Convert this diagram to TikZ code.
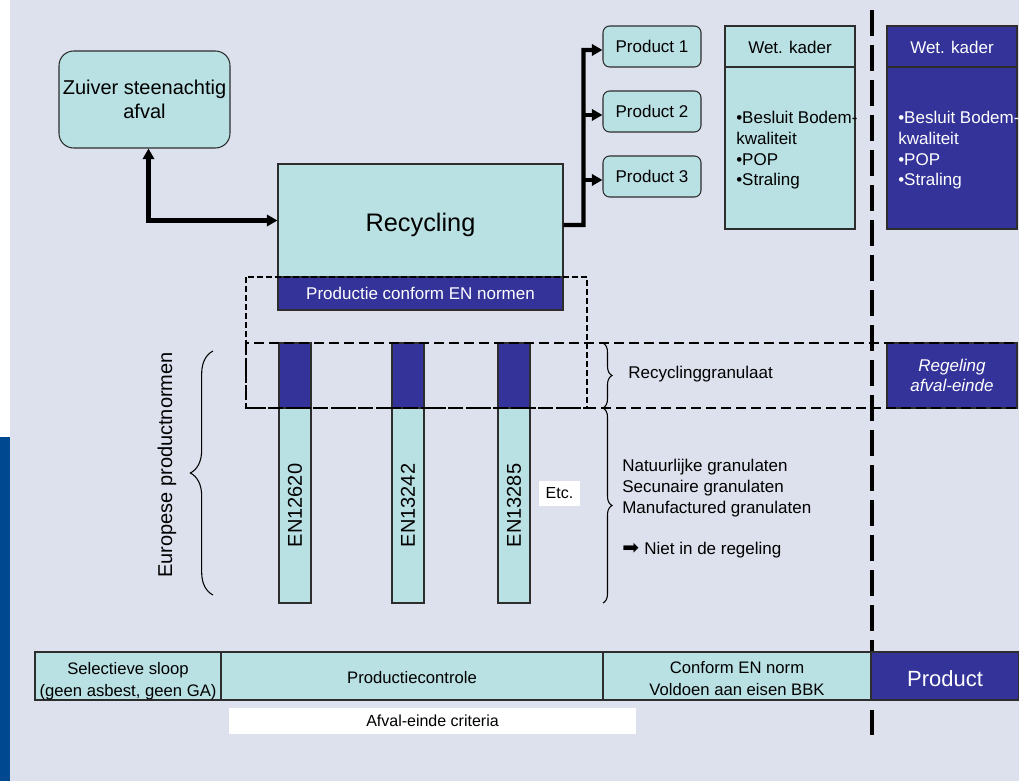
\documentclass[tikz,border=0pt]{standalone}
\usepackage{fontspec}
\setmainfont{Liberation Sans}
\newfontfamily\arrowfont{DejaVu Sans}
\usetikzlibrary{arrows.meta,decorations.pathreplacing,calc}
\definecolor{bgc}{RGB}{221,225,237}
\definecolor{tealc}{RGB}{185,224,227}
\definecolor{navyc}{RGB}{51,51,153}
\definecolor{sideblue}{RGB}{0,72,143}
\definecolor{edgec}{RGB}{45,45,45}
\begin{document}
\begin{tikzpicture}[x=0.75pt,y=-0.75pt,
  basefont/.style={font=\fontsize{12.75pt}{15.5pt}\selectfont},
  sqbox/.style={draw=edgec, fill=tealc, line width=0.8pt, inner sep=0pt, basefont},
  navybox/.style={draw=edgec, fill=navyc, text=white, line width=0.8pt, inner sep=0pt, basefont},
  rbox/.style={sqbox, rounded corners=5pt},
  freetext/.style={inner sep=0pt, anchor=base west, basefont},
  listtext/.style={inner sep=0pt, anchor=west, align=left, basefont},
  rowbox/.style={sqbox, minimum height=36pt},
  rowtext/.style={inner sep=0pt, align=center, font=\fontsize{12.5pt}{16.5pt}\selectfont},
  thickline/.style={line width=3.2pt, draw=black},
  tip/.tip={Triangle[length=8pt,width=8.5pt]},
  bracestyle/.style={draw=black, line width=0.8pt, decorate},
  thickdash/.style={draw=black, line width=3pt, dash pattern=on 19.5pt off 6.75pt},
  middash/.style={draw=black, line width=1.5pt, dash pattern=on 7.5pt off 3.75pt},
  finedash/.style={draw=black, line width=1.1pt, dash pattern=on 4.5pt off 2.25pt},
  whitelabel/.style={fill=white, inner sep=0pt, basefont}
]
\useasboundingbox (0,0) rectangle (1019,781);
\clip (0,0) rectangle (1019,781);
% background
\fill[white] (0,0) rectangle (10,437);
\fill[sideblue] (0,437) rectangle (10,781);
\fill[bgc] (10,0) rectangle (1019,781);

% main boxes
\node[rbox, rounded corners=11pt, minimum width=128.25pt, minimum height=72.75pt, align=center,
      font=\fontsize{15pt}{17.5pt}\selectfont] (zu) at (144.5,99.5) {Zuiver steenachtig\\afval};
\node[sqbox, minimum width=213.75pt, minimum height=84.75pt, text height=16pt, text depth=0pt,
      font=\fontsize{19pt}{22pt}\selectfont] (rec) at (420.5,220.5) {Recycling};
\node[navybox, minimum width=213.75pt, minimum height=24.75pt, text depth=0pt] (pce) at (420.5,293.5) {Productie conform EN normen};

\node[rbox, minimum width=73.5pt, minimum height=30.75pt] (p1) at (652,46.5) {Product 1};
\node[rbox, minimum width=73.5pt, minimum height=30.75pt] (p2) at (652,111.5) {Product 2};
\node[rbox, minimum width=73.5pt, minimum height=30.75pt] (p3) at (652,176.5) {Product 3};

% Wet. kader boxes
\node[sqbox, minimum width=97.5pt, minimum height=30.75pt, text height=10.5pt, text depth=0pt] (wk1h) at (790,46.5) {Wet. kader};
\node[sqbox, minimum width=97.5pt, minimum height=121.5pt] (wk1b) at (790,148) {};
\node[listtext] (wk1t) at (736,150.5) {•Besluit Bodem-\\kwaliteit\\•POP\\•Straling};
\node[navybox, minimum width=97.5pt, minimum height=30.75pt, text height=10.5pt, text depth=0pt] (wk2h) at (952,46.5) {Wet. kader};
\node[navybox, minimum width=97.5pt, minimum height=121.5pt] (wk2b) at (952,148) {};
\node[listtext, text=white] (wk2t) at (898,150.5) {•Besluit Bodem-\\kwaliteit\\•POP\\•Straling};

% Regeling
\node[navybox, minimum width=97.5pt, minimum height=48.75pt, align=center,
      font=\itshape\fontsize{12.75pt}{15pt}\selectfont] (reg) at (952,375.5) {Regeling\\afval-einde};

% EN columns
\node[navybox, minimum width=24pt, minimum height=48.75pt] (c1t) at (295,375.5) {};
\node[navybox, minimum width=24pt, minimum height=48.75pt] (c2t) at (408,375.5) {};
\node[navybox, minimum width=24pt, minimum height=48.75pt] (c3t) at (514,375.5) {};
\node[sqbox, rotate=90, minimum width=146.25pt, minimum height=24pt, font=\fontsize{15pt}{18pt}\selectfont] (c1b) at (295,505.5) {EN12620};
\node[sqbox, rotate=90, minimum width=146.25pt, minimum height=24pt, font=\fontsize{15pt}{18pt}\selectfont] (c2b) at (408,505.5) {EN13242};
\node[sqbox, rotate=90, minimum width=146.25pt, minimum height=24pt, font=\fontsize{15pt}{18pt}\selectfont] (c3b) at (514,505.5) {EN13285};
\node[whitelabel, minimum width=30.75pt, minimum height=18.5pt, font=\fontsize{12pt}{14pt}\selectfont] (etc) at (559.5,493.5) {Etc.};

% left brace and label
\draw[bracestyle, decoration={brace, amplitude=17pt}] (213,595) -- (213,351);
\node[rotate=90, inner sep=0pt, font=\fontsize{15pt}{18pt}\selectfont] (epn) at (167,465) {Europese productnormen};

% right braces and texts
\draw[bracestyle, decoration={brace, amplitude=6.75pt}] (603,343) -- (603,408);
\draw[bracestyle, decoration={brace, amplitude=6.75pt}] (603,408) -- (603,603);
\node[freetext] (rg) at (628,378) {Recyclinggranulaat};
\node[freetext] (ng) at (622,471) {Natuurlijke granulaten};
\node[freetext] (sg) at (622,492) {Secunaire granulaten};
\node[freetext] (mg) at (622,513) {Manufactured granulaten};
\node[freetext] (nr) at (622,554) {{\arrowfont\fontsize{15pt}{16pt}\selectfont ➡}\hspace{4pt}Niet in de regeling};

% connectors
\coordinate (jr) at (583.5,225);
\draw[thickline, tip-tip] ([xshift=3pt]zu.south) |- (rec.west);
\draw[thickline, -tip] ([yshift=-3.4pt]rec.east) -- (jr) |- ([yshift=-2.6pt]p1.west);
\draw[thickline, -tip] ([yshift=-2.6pt]jr |- p2.west) -- ([yshift=-2.6pt]p2.west);
\draw[thickline, -tip] ([yshift=-2.6pt]jr |- p3.west) -- ([yshift=-2.6pt]p3.west);

% dashed frames
\draw[finedash] (246,277) rectangle (587,408);
\draw[middash] (246,343) rectangle (1030,408);
\draw[thickdash] (871.5,10) -- (871.5,735);

% bottom row
\node[rowbox, minimum width=139.5pt] (b1) at (128,676) {};
\node[rowtext] (b1t) at (128,680.7) {Selectieve sloop\\(geen asbest, geen GA)};
\node[rowbox, minimum width=286.5pt, text height=11pt, text depth=0pt, font=\fontsize{12.5pt}{16.5pt}\selectfont] (b2) at (412,676) {Productiecontrole};
\node[rowbox, minimum width=200.25pt] (b3) at (737,676) {};
\node[rowtext] (b3t) at (737,678.5) {Conform EN norm\\Voldoen aan eisen BBK};
\node[navybox, minimum width=111pt, minimum height=36pt, text height=16pt, text depth=0pt,
      font=\fontsize{16.5pt}{19pt}\selectfont] (b4) at (945,676) {Product};
\node[whitelabel, minimum width=305.25pt, minimum height=19.5pt, font=\fontsize{12pt}{14pt}\selectfont] (aec) at (432.5,720.5) {Afval-einde criteria};
\end{tikzpicture}
\end{document}
